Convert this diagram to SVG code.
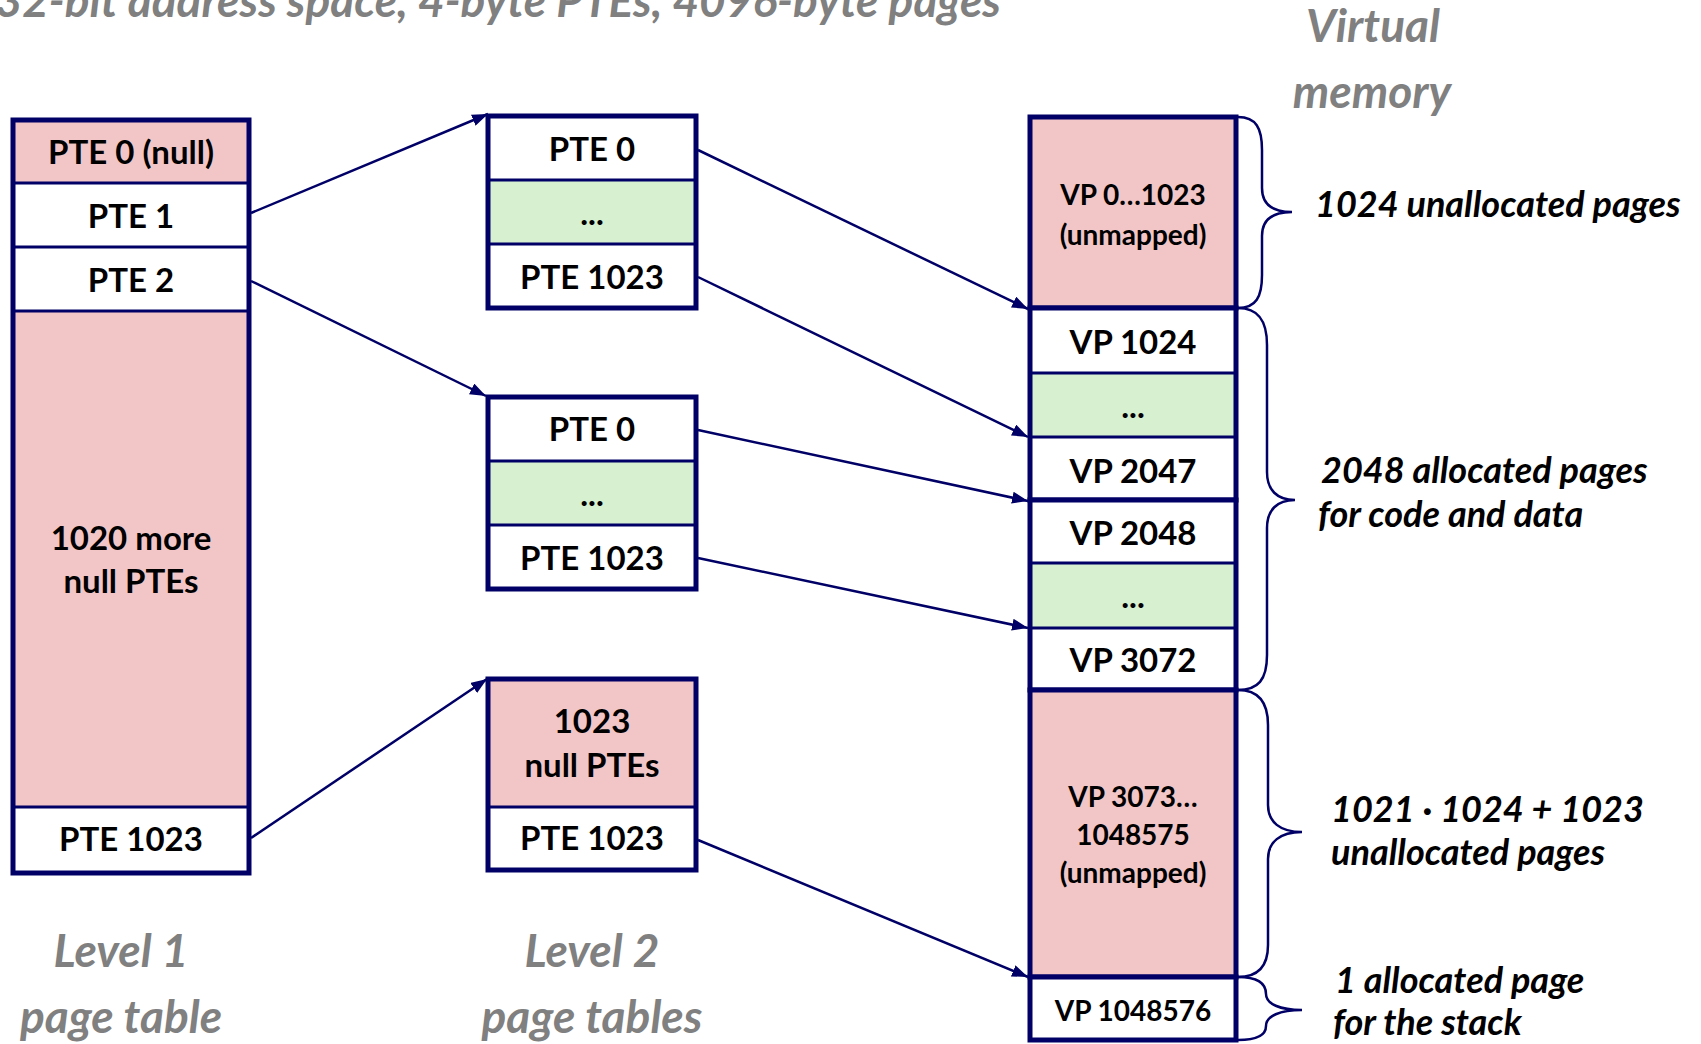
<svg xmlns="http://www.w3.org/2000/svg" width="1701" height="1044" viewBox="0 0 1701 1044">
  <style>
    .box { stroke: #000066; stroke-width: 5; }
    .div { stroke: #000066; stroke-width: 3; }
    .null { fill: #F2C6C6; }
    .used { fill: #FFFFFF; }
    .more { fill: #D6F0D0; }
    .t { font-family: Lato, "Liberation Sans", sans-serif; font-weight: bold; fill: #000000; text-anchor: middle; font-size: 33px; }
    .ts { font-size: 28px; }
    .lbl { font-family: Lato, "Liberation Sans", sans-serif; font-weight: bold; font-style: italic; fill: #000000; font-size: 36px; }
    .hdr { font-family: Lato, "Liberation Sans", sans-serif; font-weight: bold; font-style: italic; fill: #808080; font-size: 46px; text-anchor: middle; }
    .conn { stroke: #000066; stroke-width: 2.5; fill: none; marker-end: url(#head); }
    .brace { stroke: #000066; stroke-width: 2.5; fill: none; }
  </style>
  <defs>
    <marker id="head" markerUnits="userSpaceOnUse" markerWidth="17" markerHeight="12" refX="16" refY="6" orient="auto">
      <path d="M0,0 L16,6 L0,12 z" fill="#000066"/>
    </marker>
  </defs>

  <rect width="1701" height="1044" fill="#FFFFFF"/>

  <text class="hdr" x="1001" y="17" style="text-anchor:end">32-bit address space, 4-byte PTEs, 4096-byte pages</text>

  <!-- Level 1 page table -->
  <g id="level1">
    <rect class="null" x="13" y="120" width="236" height="63"/>
    <rect class="used" x="13" y="183" width="236" height="128"/>
    <rect class="null" x="13" y="311" width="236" height="496"/>
    <rect class="used" x="13" y="807" width="236" height="66"/>
    <line class="div" x1="13" y1="183" x2="249" y2="183"/>
    <line class="div" x1="13" y1="247" x2="249" y2="247"/>
    <line class="div" x1="13" y1="311" x2="249" y2="311"/>
    <line class="div" x1="13" y1="807" x2="249" y2="807"/>
    <rect class="box" x="13" y="120" width="236" height="753" fill="none"/>
    <text class="t" x="131" y="164">PTE 0 (null)</text>
    <text class="t" x="131" y="228">PTE 1</text>
    <text class="t" x="131" y="292">PTE 2</text>
    <text class="t" x="131" y="550">1020 more</text>
    <text class="t" x="131" y="593">null PTEs</text>
    <text class="t" x="131" y="851">PTE 1023</text>
  </g>

  <!-- Level 2 page table for PTE 1 -->
  <g id="level2-a">
    <rect class="used" x="488" y="116" width="208" height="64"/>
    <rect class="more" x="488" y="180" width="208" height="64"/>
    <rect class="used" x="488" y="244" width="208" height="64"/>
    <line class="div" x1="488" y1="180" x2="696" y2="180"/>
    <line class="div" x1="488" y1="244" x2="696" y2="244"/>
    <rect class="box" x="488" y="116" width="208" height="192" fill="none"/>
    <text class="t" x="592" y="161">PTE 0</text>
    <text class="t" x="592" y="225">...</text>
    <text class="t" x="592" y="289">PTE 1023</text>
  </g>

  <!-- Level 2 page table for PTE 2 -->
  <g id="level2-b">
    <rect class="used" x="488" y="397" width="208" height="64"/>
    <rect class="more" x="488" y="461" width="208" height="64"/>
    <rect class="used" x="488" y="525" width="208" height="64"/>
    <line class="div" x1="488" y1="461" x2="696" y2="461"/>
    <line class="div" x1="488" y1="525" x2="696" y2="525"/>
    <rect class="box" x="488" y="397" width="208" height="192" fill="none"/>
    <text class="t" x="592" y="441">PTE 0</text>
    <text class="t" x="592" y="506">...</text>
    <text class="t" x="592" y="570">PTE 1023</text>
  </g>

  <!-- Level 2 page table for PTE 1023 -->
  <g id="level2-c">
    <rect class="null" x="488" y="679" width="208" height="128"/>
    <rect class="used" x="488" y="807" width="208" height="63"/>
    <line class="div" x1="488" y1="807" x2="696" y2="807"/>
    <rect class="box" x="488" y="679" width="208" height="191" fill="none"/>
    <text class="t" x="592" y="733">1023</text>
    <text class="t" x="592" y="777">null PTEs</text>
    <text class="t" x="592" y="850">PTE 1023</text>
  </g>

  <!-- Virtual memory -->
  <g id="vm-unmapped-low">
    <rect class="null box" x="1030" y="117" width="206" height="191"/>
    <text class="t ts" x="1133" y="205">VP 0…1023</text>
    <text class="t ts" x="1133" y="245">(unmapped)</text>
  </g>
  <g id="vm-code">
    <rect class="used" x="1030" y="308" width="206" height="65"/>
    <rect class="more" x="1030" y="373" width="206" height="64"/>
    <rect class="used" x="1030" y="437" width="206" height="63"/>
    <line class="div" x1="1030" y1="373" x2="1236" y2="373"/>
    <line class="div" x1="1030" y1="437" x2="1236" y2="437"/>
    <rect class="box" x="1030" y="308" width="206" height="192" fill="none"/>
    <text class="t" x="1133" y="354">VP 1024</text>
    <text class="t" x="1133" y="418">...</text>
    <text class="t" x="1133" y="483">VP 2047</text>
  </g>
  <g id="vm-data">
    <rect class="used" x="1030" y="500" width="206" height="63"/>
    <rect class="more" x="1030" y="563" width="206" height="65"/>
    <rect class="used" x="1030" y="628" width="206" height="62"/>
    <line class="div" x1="1030" y1="563" x2="1236" y2="563"/>
    <line class="div" x1="1030" y1="628" x2="1236" y2="628"/>
    <rect class="box" x="1030" y="500" width="206" height="190" fill="none"/>
    <text class="t" x="1133" y="545">VP 2048</text>
    <text class="t" x="1133" y="608">...</text>
    <text class="t" x="1133" y="672">VP 3072</text>
  </g>
  <g id="vm-unmapped-high">
    <rect class="null box" x="1030" y="690" width="206" height="287"/>
    <text class="t ts" x="1133" y="807">VP 3073…</text>
    <text class="t ts" x="1133" y="845">1048575</text>
    <text class="t ts" x="1133" y="883">(unmapped)</text>
  </g>
  <g id="vm-stack">
    <rect class="used box" x="1030" y="977" width="206" height="63"/>
    <text class="t ts" x="1133" y="1021">VP 1048576</text>
  </g>

  <!-- Connectors -->
  <g id="connectors">
    <line class="conn" x1="251" y1="213" x2="488" y2="114"/>
    <line class="conn" x1="251" y1="281" x2="486" y2="396"/>
    <line class="conn" x1="251" y1="838" x2="487" y2="679"/>
    <line class="conn" x1="698" y1="150" x2="1028" y2="309"/>
    <line class="conn" x1="698" y1="277" x2="1028" y2="437"/>
    <line class="conn" x1="698" y1="430" x2="1028" y2="501"/>
    <line class="conn" x1="698" y1="558" x2="1028" y2="628"/>
    <line class="conn" x1="698" y1="840" x2="1028" y2="977"/>
  </g>

  <!-- Braces and their notes -->
  <g id="braces">
    <path class="brace" d="M1238,117 C1256,117 1262,128 1262,150 L1262,188 C1262,204 1272,212 1292,212 C1272,212 1262,220 1262,236 L1262,275 C1262,297 1256,308 1238,308"/>
    <path class="brace" d="M1238,308 C1258,308 1267,320 1267,345 L1267,472 C1267,490 1277,500 1295,500 C1277,500 1267,510 1267,528 L1267,655 C1267,680 1258,690 1238,690"/>
    <path class="brace" d="M1238,690 C1258,690 1268,702 1268,725 L1268,805 C1268,822 1280,832 1302,832 C1280,832 1268,842 1268,859 L1268,945 C1268,967 1258,977 1238,977"/>
    <path class="brace" d="M1238,977 C1258,977 1266,984 1266,994 C1266,1004 1280,1010 1302,1010 C1280,1010 1266,1016 1266,1026 C1266,1035 1258,1040 1238,1040"/>
  </g>
  <g id="notes">
    <text class="lbl" x="1315" y="217">1024 unallocated pages</text>
    <text class="lbl" x="1321" y="483">2048 allocated pages</text>
    <text class="lbl" x="1318" y="527">for code and data</text>
    <text class="lbl" x="1331" y="822">1021 · 1024 + 1023</text>
    <text class="lbl" x="1331" y="865">unallocated pages</text>
    <text class="lbl" x="1335" y="993">1 allocated page</text>
    <text class="lbl" x="1333" y="1035">for the stack</text>
  </g>

  <!-- Column headings -->
  <g id="headings">
    <text class="hdr" x="1373" y="42">Virtual</text>
    <text class="hdr" x="1372" y="108">memory</text>
    <text class="hdr" x="121" y="967">Level 1</text>
    <text class="hdr" x="121" y="1033">page table</text>
    <text class="hdr" x="592" y="967">Level 2</text>
    <text class="hdr" x="592" y="1033">page tables</text>
  </g>
</svg>
